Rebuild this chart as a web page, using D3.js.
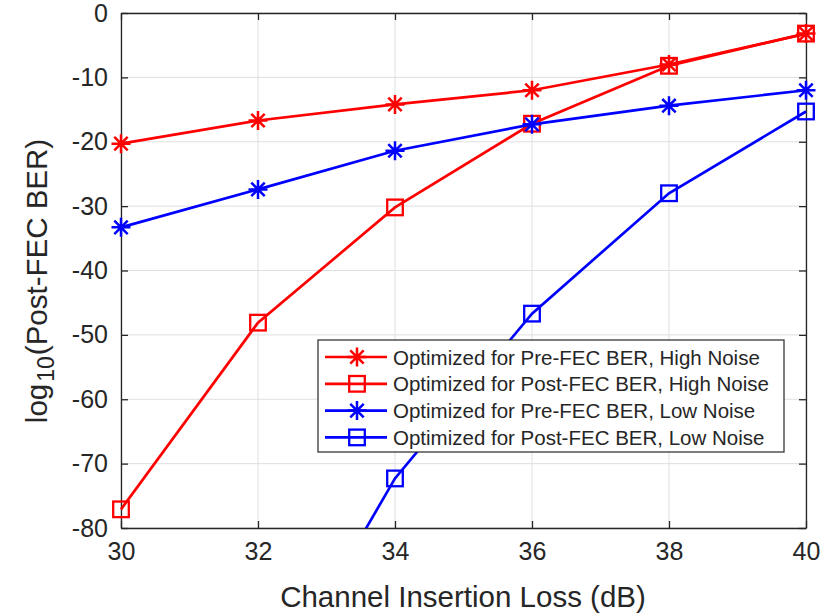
<!DOCTYPE html>
<meta charset="utf-8">
<script src="https://d3js.org/d3.v7.min.js"></script>
<style>
  body { margin: 0; background: #fff; }
  text { font-family: "Liberation Sans", Arial, sans-serif; fill: #262626; }
</style>
<div id="my_dataviz"></div>
<script>

// data
var loss = [30, 32, 34, 36, 38, 40];
var preHigh  = [-20.3, -16.7, -14.2, -12.0, -8.0, -3.2];
var postHigh = [-77.1, -48.1, -30.2, -17.2, -8.2, -3.2];
var preLow   = [-33.3, -27.4, -21.4, -17.3, -14.4, -12.0];
var postLowX = [32, 34, 36, 38, 40];
var postLow  = [-109, -72.3, -46.7, -28.0, -15.3];
var xTicks = [30, 32, 34, 36, 38, 40];
var yTicks = [0, -10, -20, -30, -40, -50, -60, -70, -80];
var names = ["Optimized for Pre-FEC BER, High Noise",
             "Optimized for Post-FEC BER, High Noise",
             "Optimized for Pre-FEC BER, Low Noise",
             "Optimized for Post-FEC BER, Low Noise"];

var series = [
  {name: names[0], xs: loss, ys: preHigh, color: "#ff0000", marker: "star"},
  {name: names[1], xs: loss, ys: postHigh, color: "#ff0000", marker: "square"},
  {name: names[2], xs: loss, ys: preLow, color: "#0000ff", marker: "star"},
  {name: names[3], xs: postLowX, ys: postLow, color: "#0000ff", marker: "square"}
];

var margin = {top: 13, left: 121},
    width = 806 - margin.left,
    height = 528 - margin.top;

var svg = d3.select("#my_dataviz")
  .append("svg")
    .attr("width", 831)
    .attr("height", 614)
  .append("g")
    .attr("transform", "translate(" + margin.left + "," + margin.top + ")");

var x = d3.scaleLinear().domain([30, 40]).range([0, width]);
var y = d3.scaleLinear().domain([-80, 0]).range([height, 0]);

// grid
svg.append("g").selectAll("line").data(xTicks).enter().append("line")
  .attr("x1", d => x(d)).attr("x2", d => x(d))
  .attr("y1", 0).attr("y2", height)
  .attr("stroke", "#dfdfdf").attr("stroke-width", 1);
svg.append("g").selectAll("line").data(yTicks).enter().append("line")
  .attr("y1", d => y(d)).attr("y2", d => y(d))
  .attr("x1", 0).attr("x2", width)
  .attr("stroke", "#dfdfdf").attr("stroke-width", 1);

// axes with inward ticks, plain hyphen for negatives
var fmt = d => String(d);
var tk = 7;
svg.append("g")
  .attr("transform", "translate(0," + height + ")")
  .call(d3.axisBottom(x).tickValues(xTicks).tickFormat(fmt).tickSizeInner(-tk).tickSizeOuter(0).tickPadding(14));
svg.append("g")
  .call(d3.axisLeft(y).tickValues(yTicks).tickFormat(fmt).tickSizeInner(-tk).tickSizeOuter(0).tickPadding(13));
svg.append("g")
  .call(d3.axisTop(x).tickValues(xTicks).tickSizeInner(-tk).tickSizeOuter(0).tickFormat(""));
svg.append("g")
  .attr("transform", "translate(" + width + ",0)")
  .call(d3.axisRight(y).tickValues(yTicks).tickSizeInner(-tk).tickSizeOuter(0).tickFormat(""));
svg.selectAll(".domain, .tick line").attr("stroke", "#262626").attr("stroke-width", 1.3);
svg.selectAll(".tick text").style("font-size", "25px").attr("fill", "#262626");

// clip to plot area
svg.append("clipPath").attr("id", "clip")
  .append("rect").attr("x", -12).attr("y", -12).attr("width", width + 24).attr("height", height + 12);

var plot = svg.append("g").attr("clip-path", "url(#clip)");

var line = d3.line().x(d => x(d[0])).y(d => y(d[1]));

function drawMarker(g, kind, cx, cy, color) {
  if (kind === "star") {
    var r = 9.5, r2 = 6.7;
    g.append("path")
      .attr("d", "M" + (cx - r) + "," + cy + "H" + (cx + r) +
                 "M" + cx + "," + (cy - r) + "V" + (cy + r) +
                 "M" + (cx - r2) + "," + (cy - r2) + "L" + (cx + r2) + "," + (cy + r2) +
                 "M" + (cx - r2) + "," + (cy + r2) + "L" + (cx + r2) + "," + (cy - r2))
      .attr("stroke", color).attr("stroke-width", 2.5).attr("fill", "none");
  } else {
    var s = 7.8;
    g.append("rect")
      .attr("x", cx - s).attr("y", cy - s).attr("width", 2 * s).attr("height", 2 * s)
      .attr("stroke", color).attr("stroke-width", 2.3).attr("fill", "none");
  }
}

series.forEach(function(s) {
  var pts = s.xs.map((v, i) => [v, s.ys[i]]);
  plot.append("path").datum(pts)
    .attr("d", line)
    .attr("fill", "none").attr("stroke", s.color).attr("stroke-width", 2.7);
  var mg = plot.append("g");
  pts.forEach(function(p) {
    if (p[1] >= -80) drawMarker(mg, s.marker, x(p[0]), y(p[1]), s.color);
  });
});

// axis labels
svg.append("text")
  .attr("x", 463 - margin.left).attr("y", 607 - margin.top)
  .attr("text-anchor", "middle")
  .style("font-size", "29.5px")
  .text("Channel Insertion Loss (dB)");

var yl = svg.append("text")
  .attr("transform", "translate(" + (47 - margin.left) + "," + (281 - margin.top) + ") rotate(-90)")
  .attr("text-anchor", "middle")
  .style("font-size", "29.5px");
yl.append("tspan").text("log");
yl.append("tspan").attr("dy", 7).attr("dx", 2).style("font-size", "23px").text("10");
yl.append("tspan").attr("dy", -7).attr("dx", 1).text("(Post-FEC BER)");

// legend
var lx = 318 - margin.left, ly = 340 - margin.top, lw = 466, lh = 112;
var legend = svg.append("g");
legend.append("rect")
  .attr("x", lx).attr("y", ly).attr("width", lw).attr("height", lh)
  .attr("fill", "#fff").attr("stroke", "#262626").attr("stroke-width", 1.2);
series.forEach(function(s, i) {
  var yy = ly + 17 + i * 26.8;
  legend.append("line")
    .attr("x1", lx + 7).attr("x2", lx + 69).attr("y1", yy).attr("y2", yy)
    .attr("stroke", s.color).attr("stroke-width", 2.7);
  drawMarker(legend, s.marker, lx + 39, yy, s.color);
  legend.append("text")
    .attr("x", lx + 75).attr("y", yy + 7.5)
    .style("font-size", "20.5px")
    .text(s.name);
});

</script>
